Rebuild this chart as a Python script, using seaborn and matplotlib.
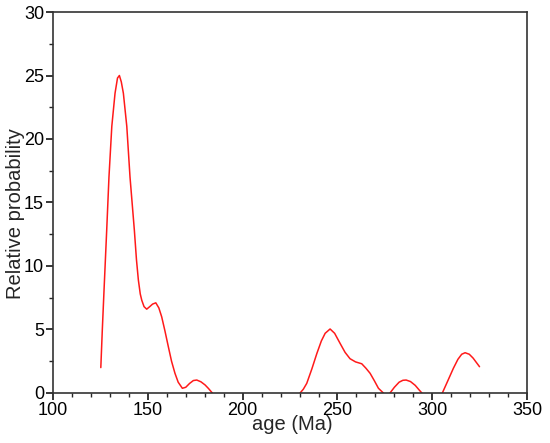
import numpy as np
import pandas as pd
import matplotlib
matplotlib.use('Agg')
import matplotlib.pyplot as plt
import seaborn as sns
from matplotlib.ticker import MultipleLocator

# probability curve, one list per visible piece
age_1 = [125.2, 126.0, 126.9, 128.3, 129.5, 131.0, 132.7, 134.0, 135.0, 136.0,
         137.1, 138.9, 140.6, 142.9, 144.0, 145.0, 146.0, 146.8, 148.0, 149.4,
         151.0, 152.5, 154.2, 155.8, 157.3, 159.0, 160.8, 162.5, 164.3, 166.0,
         168.2, 170.0, 172.0, 174.0, 175.8, 178.0, 180.2, 182.0, 184.0]
prob_1 = [2.0, 5.0, 8.1, 12.8, 17.0, 21.0, 23.6, 24.8, 25.0, 24.5,
          23.6, 21.0, 17.0, 12.8, 10.5, 8.9, 7.8, 7.3, 6.8, 6.6,
          6.8, 7.0, 7.1, 6.7, 6.0, 4.9, 3.65, 2.5, 1.55, 0.85,
          0.37, 0.45, 0.75, 0.98, 1.02, 0.88, 0.63, 0.35, 0.0]

age_2 = [230.3, 232.0, 233.8, 236.5, 239.1, 241.5, 243.5, 246.1, 248.5, 251.4,
         254.0, 256.6, 259.5, 262.8, 265.0, 267.2, 269.5, 271.6, 274.2]
prob_2 = [0.0, 0.3, 0.76, 1.9, 3.1, 4.1, 4.7, 5.04, 4.7, 3.9,
          3.2, 2.7, 2.45, 2.3, 1.95, 1.55, 0.95, 0.37, 0.0]

age_3 = [277.7, 280.0, 282.5, 284.5, 286.2, 288.5, 291.0, 293.0, 294.5]
prob_3 = [0.0, 0.45, 0.85, 1.0, 1.02, 0.9, 0.6, 0.25, 0.0]

age_4 = [305.3, 308.0, 311.1, 313.5, 315.5, 317.3, 319.5, 321.5, 323.5, 324.9]
prob_4 = [0.0, 0.9, 1.94, 2.65, 3.05, 3.17, 3.05, 2.75, 2.35, 2.07]

pieces = [(age_1, prob_1), (age_2, prob_2), (age_3, prob_3), (age_4, prob_4)]
frames = []
for i, (a, p) in enumerate(pieces):
    frames.append(pd.DataFrame({'age': a, 'prob': p, 'piece': i}))
df = pd.concat(frames, ignore_index=True)

sns.set_style('white')
plt.rcParams['font.family'] = ['Liberation Sans', 'DejaVu Sans']

fig = plt.figure(figsize=(5.5, 4.43), dpi=100)
ax = fig.add_axes([0.0964, 0.1129, 0.862, 0.860])

sns.lineplot(data=df, x='age', y='prob', units='piece', estimator=None,
             sort=False, color='#ff1a1a', linewidth=1.1, ax=ax, legend=False)

ax.set_xlim(100, 350)
ax.set_ylim(0, 30)
ax.xaxis.set_major_locator(MultipleLocator(50))
ax.xaxis.set_minor_locator(MultipleLocator(10))
ax.yaxis.set_major_locator(MultipleLocator(5))
ax.yaxis.set_minor_locator(MultipleLocator(2.5))
ax.tick_params(which='major', direction='out', length=5, width=1.1,
               labelsize=13, colors='black', bottom=True, left=True, pad=1.5)
ax.tick_params(which='minor', direction='out', length=3, width=1.0,
               bottom=True, left=True)
for s in ax.spines.values():
    s.set_visible(True)
    s.set_color('#333333')
    s.set_linewidth(1.2)

ax.set_xlabel('age (Ma)', fontsize=14.5)
ax.set_ylabel('Relative probability', fontsize=14.5)
ax.xaxis.set_label_coords(0.505, -0.058)
ax.yaxis.set_label_coords(-0.059, 0.471)

fig.savefig('out.png', dpi=100)
